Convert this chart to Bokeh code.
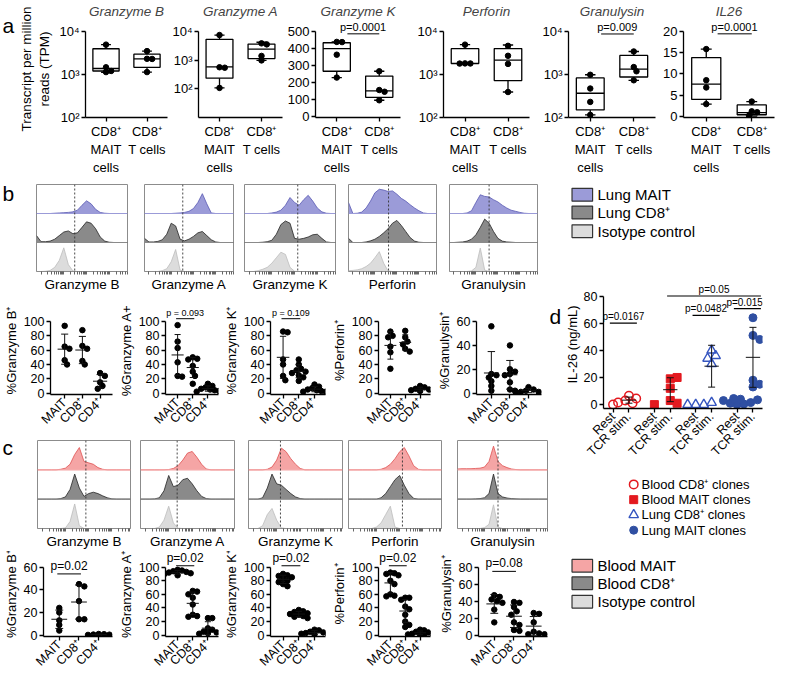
import math
import numpy as np
from bokeh.plotting import figure
from bokeh.models import FixedTicker, Range1d, Span
from bokeh.layouts import row, column
from bokeh.embed import file_html
from bokeh.resources import INLINE
from bokeh.core.properties import value

FONT = "Liberation Sans"
SX, SY = 784 / 800, 676 / 694


def X(v):
    return int(round(v * SX))


def Y(v):
    return int(round(v * SY))


# ---------------------------------------------------------------- data
# panel a: RNA-seq TPM, box stats [min, q1, median, q3, max] and points
A_GENES = ["Granzyme B", "Granzyme A", "Granzyme K", "Perforin", "Granulysin", "IL26"]
A_CATS = ["CD8⁺\nMAIT\ncells", "CD8⁺\nT cells"]
A_LOG = [True, True, False, True, True, False]
A_YLIM = [(100, 1e4), (10, 1e4), (0, 500), (100, 1e4), (100, 1e4), (0, 20)]
A_YTICKS = [[100, 1000, 10000], [100, 1000, 10000], [0, 100, 200, 300, 400, 500],
            [100, 1000, 10000], [100, 1000, 10000], [0, 5, 10, 15, 20]]
A_MAIT_STATS = [[1120, 1200, 1370, 3930, 4900], [107, 233, 575, 5250, 7400],
                [228, 265, 398, 432, 437], [1780, 1780, 1800, 3950, 4900],
                [115, 150, 365, 830, 980], [2.9, 4.0, 7.6, 13.8, 15.8]]
A_CD8_STATS = [[1130, 1460, 2290, 2950, 3470], [970, 1120, 2400, 3600, 4150],
               [95, 112, 150, 237, 265], [390, 720, 2150, 3980, 4800],
               [730, 870, 1320, 2750, 3400], [0.1, 0.4, 0.9, 2.7, 3.5]]
A_MAIT_PTS = [[4900, 1460, 1200, 1130], [7400, 560, 540, 107], [437, 436, 362, 228],
              [4900, 1800, 1790, 1780], [980, 470, 230, 115], [15.8, 8.5, 6.8, 2.9]]
A_CD8_PTS = [[3470, 2300, 2280, 1130], [3800, 3500, 1390, 970], [265, 155, 145, 95],
             [4600, 2700, 1750, 390], [3400, 1480, 1180, 730], [3.5, 1.2, 1.0, 0.2]]
A_P = [None, None, "p=0.0001", None, "p=0.009", "p=0.0001"]

# flow histograms (normalised heights on a 21-step grid)
H_N = 21


def pad(v):
    return list(v) + [0] * (H_N - len(v))


B_HIST = ["Granzyme B", "Granzyme A", "Granzyme K", "Perforin", "Granulysin"]
B_GATE = [0.42, 0.43, 0.585, 0.455, 0.45]
B_MAIT_H = [
    pad([0, 0, 0, 0, 0.01, 0.02, 0.03, 0.04, 0.06, 0.12, 0.30, 0.46, 0.35, 0.15, 0.04, 0.01]),
    pad([0, 0, 0, 0, 0, 0, 0, 0.01, 0.02, 0.04, 0.08, 0.18, 0.40, 0.72, 0.35, 0.02]),
    pad([0, 0, 0, 0, 0, 0, 0.02, 0.05, 0.12, 0.30, 0.58, 0.40, 0.30, 0.50, 0.66, 0.45, 0.20, 0.06, 0.01]),
    pad([0.4, 0, 0.01, 0.05, 0.20, 0.45, 0.75, 0.88, 0.85, 0.80, 0.82, 0.70, 0.55, 0.45, 0.32, 0.20, 0.10, 0.02]),
    pad([0, 0, 0, 0, 0.02, 0.10, 0.40, 0.68, 0.62, 0.60, 0.50, 0.42, 0.30, 0.20, 0.12, 0.08, 0.04, 0.01]),
]
B_CD8_H = [
    pad([0.25, 0.03, 0.03, 0.05, 0.12, 0.25, 0.38, 0.42, 0.32, 0.35, 0.55, 0.75, 0.70, 0.50, 0.20, 0.05, 0.01]),
    pad([0.15, 0.02, 0.02, 0.04, 0.10, 0.30, 0.70, 0.60, 0.12, 0.06, 0.12, 0.22, 0.35, 0.40, 0.25, 0.10, 0.02]),
    pad([0, 0, 0, 0, 0.01, 0.03, 0.08, 0.30, 0.65, 0.78, 0.70, 0.15, 0.12, 0.15, 0.20, 0.28, 0.30, 0.15, 0.02]),
    pad([0.15, 0, 0, 0, 0.02, 0.06, 0.12, 0.22, 0.35, 0.50, 0.70, 0.80, 0.62, 0.40, 0.18, 0.05, 0.01]),
    pad([0, 0, 0.01, 0.02, 0.05, 0.12, 0.28, 0.55, 0.85, 0.70, 0.40, 0.15, 0.05, 0.02, 0.01]),
]
B_ISO_H = [
    pad([0, 0, 0.01, 0.04, 0.15, 0.40, 0.86, 0.25, 0.02]),
    pad([0, 0, 0, 0, 0.03, 0.10, 0.35, 0.80, 0.05]),
    pad([0, 0, 0, 0.03, 0.08, 0.15, 0.30, 0.50, 0.70, 0.62, 0.15, 0.01]),
    pad([0.03, 0.04, 0.06, 0.10, 0.18, 0.30, 0.50, 0.72, 0.30, 0.02]),
    pad([0, 0, 0, 0, 0, 0.02, 0.15, 0.85, 0.05]),
]
C_GATE = [0.52, 0.39, 0.34, 0.58, 0.45]
C_MAIT_H = [
    pad([0, 0, 0, 0, 0, 0.02, 0.06, 0.20, 0.55, 0.80, 0.30, 0.25, 0.20, 0.08, 0.02]),
    pad([0, 0, 0, 0, 0, 0, 0.01, 0.05, 0.15, 0.35, 0.60, 0.66, 0.45, 0.20, 0.03]),
    pad([0, 0, 0, 0, 0.02, 0.10, 0.35, 0.78, 0.65, 0.40, 0.20, 0.05]),
    pad([0, 0, 0, 0, 0, 0, 0, 0.02, 0.08, 0.20, 0.40, 0.65, 0.80, 0.50, 0.15, 0.02]),
    pad([0.03, 0.04, 0.04, 0.04, 0.05, 0.06, 0.10, 0.30, 0.85, 0.30, 0.15, 0.08, 0.03, 0.01]),
]
C_CD8_H = [
    pad([0, 0, 0, 0, 0, 0.02, 0.08, 0.35, 0.90, 0.40, 0.10, 0.20, 0.25, 0.20, 0.12, 0.05, 0.01]),
    pad([0, 0, 0, 0.01, 0.05, 0.30, 0.85, 0.45, 0.50, 0.70, 0.75, 0.55, 0.30, 0.10, 0.02]),
    pad([0, 0, 0, 0.05, 0.40, 0.90, 0.55, 0.50, 0.35, 0.20, 0.08, 0.02]),
    pad([0, 0, 0, 0, 0, 0, 0, 0.05, 0.20, 0.45, 0.70, 0.85, 0.50, 0.20, 0.03]),
    pad([0, 0, 0, 0, 0.01, 0.02, 0.05, 0.20, 0.90, 0.20, 0.08, 0.04, 0.02, 0.01]),
]
C_ISO_H = [
    pad([0, 0, 0, 0, 0, 0, 0.02, 0.25, 0.88, 0.10]),
    pad([0, 0, 0, 0, 0.05, 0.30, 0.80, 0.20, 0.01]),
    pad([0, 0, 0, 0.10, 0.50, 0.72, 0.30, 0.02]),
    pad([0, 0, 0, 0, 0, 0, 0.05, 0.20, 0.50, 0.80, 0.05]),
    pad([0, 0, 0, 0, 0, 0, 0.03, 0.15, 0.85, 0.05]),
]

# dot plots (% positive)
CATS3 = ["MAIT", "CD8⁺", "CD4⁺"]
B_YLAB = ["%Granzyme B⁺", "%Granzyme A+", "%Granzyme K⁺", "%Perforin⁺", "%Granulysin⁺"]
B_YMAX = [100, 100, 100, 100, 60]
B_MAIT = [[94, 65, 62, 46, 40], [95, 72, 63, 43, 24, 23], [86, 85, 47, 40, 24, 18],
          [86, 80, 78, 65, 57, 34], [56, 16, 15, 13, 10, 6, 2]]
B_CD8 = [[88, 66, 62, 45, 40], [50, 48, 47, 38, 30, 24, 13], [47, 40, 34, 32, 30, 28, 25, 22, 17],
         [87, 78, 72, 68, 62, 58], [40, 20, 18, 16, 15, 9, 3, 2]]
B_CD4 = [[28, 24, 15, 10, 6], [13, 10, 8, 6, 5, 4, 3, 2], [12, 9, 7, 5, 4, 3, 2, 2],
         [10, 8, 6, 5, 4, 3, 2], [5, 3, 2, 1, 1, 0.5]]
B_P = [None, "p = 0.093", "p = 0.109", None, None]
B_PY = [None, 104, 104, None, None]

C_YLAB = ["%Granzyme B⁺", "%Granzyme A⁺", "%Granzyme K⁺", "%Perforin⁺", "%Granulysin⁺"]
C_YMAX = [60, 100, 100, 100, 80]
C_MAIT = [[24, 20, 13, 9, 4], [96, 95, 94, 93, 92, 91, 90, 88], [90, 88, 87, 85, 83, 80, 78, 75, 72],
          [92, 91, 90, 88, 80, 75, 60, 58, 57], [47, 45, 42, 40, 38, 30, 15]]
C_CD8 = [[45, 43, 30, 14, 14], [65, 64, 60, 55, 45, 30, 28, 27], [37, 35, 34, 32, 31, 30, 28, 27, 25],
         [55, 55, 52, 42, 38, 30, 20, 15, 12], [39, 38, 33, 28, 24, 15, 12, 6, 5]]
C_CD4 = [[1, 0.8, 0.5, 0.4, 0.2], [25, 25, 10, 8, 5, 4, 3, 2], [8, 7, 5, 4, 3, 2, 2, 1],
         [8, 7, 5, 4, 2, 2, 1, 1, 0.5], [26, 25, 15, 4, 2, 1, 1]]
C_P = ["p=0.02", "p=0.02", "p=0.02", "p=0.02", "p=0.08"]
C_PY = [54, 102, 102, 102, 75]

# panel d: IL-26 (ng/mL)
D_GROUPS = ["Blood CD8⁺ clones", "Blood MAIT clones", "Lung CD8⁺ clones", "Lung MAIT clones"]
D_COND = ["Rest", "TCR stim."]
D_REST = [[0], [0], [0, 0, 0], [0, 0.5, 1, 1.5, 3, 3.5, 4, 4.5]]
D_STIM = [[6.5, 4.5, 3, 1.5, 1], [19, 20, 12, 3, 1], [40, 36, 34, 30, 1.5], [64, 51, 48, 18, 15, 13]]
D_P = [("p=0.0167", 0, 1, 60), ("p=0.0482", 4, 5, 65.7), ("p=0.0158", 6, 7, 70.7), ("p=0.05", 3, 7, 80)]

# ---------------------------------------------------------------- styling helpers
LAV = ("#9b9bd8", "#5a5ab4")
DK = ("#8a8a8a", "#262626")
LT = ("#dcdcdc", "#bdbdbd")
PINK = ("#f5a5a5", "#e05050")
RED = "#e3191f"
BLUE = "#2f4fa2"
BLUE2 = "#3555c0"


def fig(x0, x1, y0, y1, fl, fr, ft, fb, xr, yr, **kw):
    p = figure(width=X(x1) - X(x0), height=Y(y1) - Y(y0), x_range=xr, y_range=yr,
               output_backend="svg", toolbar_location=None,
               min_border_left=X(fl) - X(x0), min_border_right=X(x1) - X(fr),
               min_border_top=Y(ft) - Y(y0), min_border_bottom=Y(y1) - Y(fb), **kw)
    p.outline_line_color = None
    p.grid.visible = False
    return p


def blank_fig(x0, x1, y0, y1):
    p = figure(width=X(x1) - X(x0), height=Y(y1) - Y(y0), x_range=Range1d(x0, x1),
               y_range=Range1d(y1, y0), output_backend="svg", toolbar_location=None,
               x_axis_location=None, y_axis_location=None, min_border=0)
    p.outline_line_color = None
    p.grid.visible = False
    return p


def letter_fig(ch, x0, x1, y0, y1, tx, ty):
    p = blank_fig(x0, x1, y0, y1)
    p.text(x=[tx], y=[ty], text=[ch], text_font=value(FONT), text_font_size="21px",
           text_baseline="middle", text_align="left")
    return p


def style_axis(ax, fs="13px", lw=1.3):
    ax.axis_line_width = lw
    ax.axis_line_color = "black"
    ax.major_tick_line_width = lw
    ax.major_tick_line_color = "black"
    ax.major_tick_in = 0
    ax.major_tick_out = 4
    ax.minor_tick_line_color = None
    ax.major_label_text_font = FONT
    ax.major_label_text_font_size = fs
    ax.major_label_text_color = "black"
    ax.axis_label_text_font = FONT
    ax.axis_label_text_font_style = "normal"
    ax.axis_label_text_color = "black"
    ax.major_label_standoff = 2
    ax.axis_label_standoff = 2


def swarm(vals, ppx, ppy, d, k=0.85):
    placed, offs = [], []
    for v in vals:
        c = 0.0
        for j in range(60):
            c = ((j + 1) // 2) * (1 if j % 2 else -1) * 0.5 * d / ppx
            if all(math.hypot((c - o) * ppx, (v - pv) * ppy) >= d * k for pv, o in placed):
                break
        placed.append((v, c))
        offs.append(c)
    return offs


def mean_sd(p, xc, vals, hm, hc, color="#111", lw=1.0):
    m = float(np.mean(vals))
    s = float(np.std(vals, ddof=1)) if len(vals) > 1 else 0.0
    p.segment(x0=[xc - hm, xc, xc - hc, xc - hc], y0=[m, m - s, m - s, m + s],
              x1=[xc + hm, xc, xc + hc, xc + hc], y1=[m, m + s, m - s, m + s],
              line_color=color, line_width=lw)


# ---------------------------------------------------------------- panel a
A_FIG = [(16, 172, 82, 170), (172, 290, 200, 288), (290, 410, 320, 408),
         (410, 548, 452, 540), (548, 670, 580, 668), (670, 800, 697, 790)]
A_TOP, A_AXTOP, A_BOT = 18, 30, 126
SUP = {100: "10²", 1000: "10³", 10000: "10⁴"}


def make_a(i):
    x0, x1, fl, fr = A_FIG[i]
    lo, hi = A_YLIM[i]
    ext = (A_AXTOP - A_TOP) / (A_BOT - A_AXTOP)
    if A_LOG[i]:
        l0, l1 = math.log10(lo), math.log10(hi)
        yr = Range1d(lo, 10 ** (l1 + (l1 - l0) * ext))
        ppy = (A_BOT - A_AXTOP) / (l1 - l0)
        tf, inv = math.log10, (lambda t: 10 ** t)
    else:
        yr = Range1d(lo - (hi - lo) * 0.012, hi + (hi - lo) * ext)
        ppy = (A_BOT - A_AXTOP) / (hi - lo)
        tf, inv = (lambda v: v), (lambda t: t)
    p = fig(x0, x1, 0, 182, fl, fr, A_TOP, A_BOT, Range1d(0, 2), yr,
            y_axis_type="log" if A_LOG[i] else "linear", title=A_GENES[i])
    p.title.text_font = FONT
    p.title.text_font_style = "italic"
    p.title.text_font_size = "13.5px"
    p.title.align = "center"
    p.title.standoff = 3
    for ax in p.axis:
        style_axis(ax, "13px")
    p.yaxis.ticker = FixedTicker(ticks=A_YTICKS[i])
    p.yaxis.bounds = (yr.start, hi)
    if A_LOG[i]:
        p.yaxis.major_label_overrides = {float(k): v for k, v in SUP.items()}
    p.xaxis.ticker = FixedTicker(ticks=[0.5, 1.5])
    p.xaxis.major_label_overrides = {0.5: A_CATS[0], 1.5: A_CATS[1]}
    ppx = (fr - fl) / 2.0
    for xc, st, pts in [(0.5, A_MAIT_STATS[i], A_MAIT_PTS[i]), (1.5, A_CD8_STATS[i], A_CD8_PTS[i])]:
        mn, q1, md, q3, mx = st
        p.quad(left=[xc - 0.32], right=[xc + 0.32], bottom=[q1], top=[q3],
               fill_color=None, line_color="black", line_width=1.3)
        p.segment(x0=[xc - 0.32, xc, xc, xc - 0.12, xc - 0.12], y0=[md, q3, q1, mx, mn],
                  x1=[xc + 0.32, xc, xc, xc + 0.12, xc + 0.12], y1=[md, mx, mn, mx, mn],
                  line_color="black", line_width=1.3)
        offs = swarm([tf(v) for v in pts], ppx, ppy, 5.5, 0.9)
        p.scatter(x=[xc + o for o in offs], y=pts, size=5.5, color="black")
    if A_P[i]:
        yl = inv(tf(hi) - 3 / ppy)
        p.segment(x0=[0.75], y0=[yl], x1=[1.5], y1=[yl], line_color="black", line_width=1)
        p.text(x=[1.12], y=[yl], text=[A_P[i]], text_font=value(FONT), text_font_size="11px",
               text_align="center", text_baseline="bottom", y_offset=-1)
    if i == 0:
        p.yaxis.axis_label = "Transcript per million\nreads (TPM)"
        p.yaxis.axis_label_text_font_size = "13.5px"
        p.yaxis.axis_label_standoff = 4
    return p


row_a = row(letter_fig("a", 0, 16, 0, 182, 2, 10), *[make_a(i) for i in range(6)])

# ---------------------------------------------------------------- histograms
H_X = [k / (H_N - 1) for k in range(H_N)]
DEC = [0.05, 0.30, 0.55, 0.80]
MINOR = [d + 0.25 * math.log10(m) for d in DEC for m in range(1, 10) if d + 0.25 * math.log10(m) < 1]


def make_hist(spec, y0, y1, ft, fb, name, gate, curves, colors):
    x0, x1, fl, fr = spec
    p = fig(x0, x1, y0, y1, fl, fr, ft, fb, Range1d(0, 1), Range1d(0, 3), y_axis_location=None)
    p.outline_line_color = "#8c8c8c"
    for k, (h, (fc, lc)) in enumerate(zip(curves, colors)):
        base = 2 - k
        top = [base + v * 0.95 for v in h]
        p.varea(x=H_X, y1=[base] * len(h), y2=top, fill_color=fc)
        p.line(x=H_X, y=top, line_color=lc, line_width=0.8)
        p.line(x=[0, 1], y=[base, base], line_color=fc, line_width=1.2)
    p.add_layout(Span(location=gate, dimension="height", line_dash="2 2",
                      line_color="#333333", line_width=0.9))
    ax = p.xaxis[0]
    style_axis(ax, "13px", 1)
    ax.axis_line_color = "#8c8c8c"
    ax.ticker = FixedTicker(ticks=[], minor_ticks=MINOR)
    ax.minor_tick_line_color = "#555555"
    ax.minor_tick_line_width = 0.9
    ax.minor_tick_out = 3
    ax.minor_tick_in = 0
    ax.axis_label = name
    ax.axis_label_text_font_size = "13.5px"
    ax.axis_label_standoff = 2
    return p


BH_FIG = [(30, 140, 37, 130), (140, 244, 147, 238), (244, 350, 249, 342),
          (350, 452, 355, 445), (452, 560, 458, 548)]
CH_FIG = [(30, 140, 38, 133), (140, 248, 143, 239), (248, 352, 253, 349),
          (352, 462, 355, 450), (462, 560, 466, 558)]

bh = [make_hist(BH_FIG[i], 182, 302, 189, 283, B_HIST[i], B_GATE[i],
                [B_MAIT_H[i], B_CD8_H[i], B_ISO_H[i]], [LAV, DK, LT]) for i in range(5)]
ch = [make_hist(CH_FIG[i], 446, 566, 452, 547, B_HIST[i], C_GATE[i],
                [C_MAIT_H[i], C_CD8_H[i], C_ISO_H[i]], [PINK, DK, LT]) for i in range(5)]

# ---------------------------------------------------------------- dot plots
BD_FIG = [(0, 117, 42, 114), (117, 225, 157, 222), (225, 335, 265, 332),
          (335, 442, 375, 439), (442, 560, 482, 552)]
CD_FIG = [(0, 117, 43, 114), (117, 225, 155, 222), (225, 335, 263, 332),
          (335, 442, 368, 439), (442, 560, 488, 558)]


def make_dots(spec, y0, y1, ft, f0, fax, ymax, ylab, groups, ptxt, py, pfs):
    x0, x1, fl, fr = spec
    ppy = (f0 - fax) / ymax
    yr = Range1d(-1.5 / ppy, ymax + (fax - ft) / ppy)
    p = fig(x0, x1, y0, y1, fl, fr, ft, f0 + 1.5, Range1d(-0.8, 2.7), yr)
    ppx = (fr - fl) / 3.5
    for ax in p.axis:
        style_axis(ax, "12.5px")
    p.yaxis.ticker = FixedTicker(ticks=list(range(0, ymax + 1, 20)))
    p.yaxis.bounds = (yr.start, ymax)
    p.yaxis.axis_label = ylab
    p.yaxis.axis_label_text_font_size = "13px"
    p.xaxis.ticker = FixedTicker(ticks=[0, 1, 2])
    p.xaxis.major_label_overrides = {0: CATS3[0], 1: CATS3[1], 2: CATS3[2]}
    p.xaxis.major_label_orientation = math.pi / 4
    for xc, vals in enumerate(groups):
        offs = swarm(vals, ppx, ppy, 5.5)
        p.scatter(x=[xc + o for o in offs], y=vals, size=5.5, color="black")
        mean_sd(p, xc, vals, 0.4, 0.2)
    if ptxt:
        p.segment(x0=[-0.1], y0=[py], x1=[1.1], y1=[py], line_color="black", line_width=1)
        p.text(x=[0.5], y=[py], text=[ptxt], text_font=value(FONT), text_font_size=pfs,
               text_align="center", text_baseline="bottom", y_offset=-1)
    return p


bd = [make_dots(BD_FIG[i], 302, 446, 314, 406, 330, B_YMAX[i], B_YLAB[i],
                [B_MAIT[i], B_CD8[i], B_CD4[i]], B_P[i], B_PY[i], "9px") for i in range(5)]
cd = [make_dots(CD_FIG[i], 566, 694, 566, 657, 583, C_YMAX[i], C_YLAB[i],
                [C_MAIT[i], C_CD8[i], C_CD4[i]], C_P[i], C_PY[i], "12px") for i in range(5)]

# ---------------------------------------------------------------- panel d
D_MARK = [("circle", None, RED, 8.5, 1.5), ("square", RED, RED, 8, 1),
          ("triangle", None, BLUE2, 9.5, 1.4), ("circle", BLUE, BLUE, 8, 1)]
D_POS = [g * 2.6 + j for g in range(4) for j in (0, 1)]
d_fl, d_fr, d_zero, d_top80, d_ft = 610, 778, 415, 303, 287
d_ppy = (d_zero - d_top80) / 80
d_yr = Range1d(-4 / d_ppy, 80 + (d_top80 - d_ft) / d_ppy)
pd = fig(572, 800, 250, 489, d_fl, d_fr, d_ft, d_zero + 4, Range1d(-0.6, 9.4), d_yr)
for ax in pd.axis:
    style_axis(ax, "12.5px")
pd.yaxis.ticker = FixedTicker(ticks=[0, 20, 40, 60, 80])
pd.yaxis.bounds = (d_yr.start, 80)
pd.yaxis.axis_label = "IL-26 (ng/mL)"
pd.yaxis.axis_label_text_font_size = "13px"
pd.yaxis.axis_label_standoff = 1
pd.xaxis.ticker = FixedTicker(ticks=D_POS)
pd.xaxis.major_label_overrides = {float(x): D_COND[k % 2] for k, x in enumerate(D_POS)}
pd.xaxis.major_label_orientation = math.pi / 4
d_ppx = (d_fr - d_fl) / 10.0
for g in range(4):
    mk, fc, lc, sz, lw = D_MARK[g]
    for j, vals in enumerate([D_REST[g], D_STIM[g]]):
        xc = D_POS[2 * g + j]
        offs = swarm(vals, d_ppx, d_ppy, sz * 0.9, 0.8)
        pd.scatter(x=[xc + o for o in offs], y=vals, marker=mk, size=sz,
                   fill_color=fc, line_color=lc, line_width=lw)
        if j == 1:
            mean_sd(pd, xc, vals, 0.45, 0.22)
for txt, i0, i1, yv in D_P:
    xa, xb = D_POS[i0] - 0.2, min(D_POS[i1] + 0.5, 9.38)
    pd.segment(x0=[xa], y0=[yv], x1=[xb], y1=[yv], line_color="black", line_width=1.2)
    pd.text(x=[(xa + xb) / 2], y=[yv], text=[txt], text_font=value(FONT), text_font_size="10px",
            text_align="center", text_baseline="bottom", y_offset=-1)
d_row = row(letter_fig("d", 560, 572, 250, 489, 560, 317), pd)


# ---------------------------------------------------------------- legends
def square_legend(y0, y1, ys, names, cols):
    p = blank_fig(560, 800, y0, y1)
    p.rect(x=[593.5] * 3, y=ys, width=21, height=13, fill_color=[c[0] for c in cols],
           line_color="#333333", line_width=1.2)
    p.text(x=[609] * 3, y=ys, text=names, text_font=value(FONT), text_font_size="15px",
           text_baseline="middle", text_align="left")
    return p


bleg = square_legend(182, 250, [199.5, 217.5, 236.5], ["Lung MAIT", "Lung CD8⁺", "Isotype control"],
                     [LAV, DK, LT])
cleg = square_legend(555, 694, [580, 598, 617], ["Blood MAIT", "Blood CD8⁺", "Isotype control"],
                     [PINK, DK, LT])
dleg = blank_fig(560, 800, 489, 555)
d_ly = [497, 512.5, 528, 543.5]
for g in range(4):
    mk, fc, lc, sz, lw = D_MARK[g]
    dleg.scatter(x=[646], y=[d_ly[g]], marker=mk, size=sz, fill_color=fc, line_color=lc, line_width=lw)
dleg.text(x=[654] * 4, y=d_ly, text=D_GROUPS, text_font=value(FONT), text_font_size="13px",
          text_baseline="middle", text_align="left")

# ---------------------------------------------------------------- layout
left = column(row(letter_fig("b", 0, 30, 182, 302, 2, 195), *bh), row(*bd),
              row(letter_fig("c", 0, 30, 446, 566, 2, 455), *ch), row(*cd))
right = column(bleg, d_row, dleg, cleg)
layout = column(row_a, row(left, right))

open("out.html", "w").write(file_html(layout, INLINE))
